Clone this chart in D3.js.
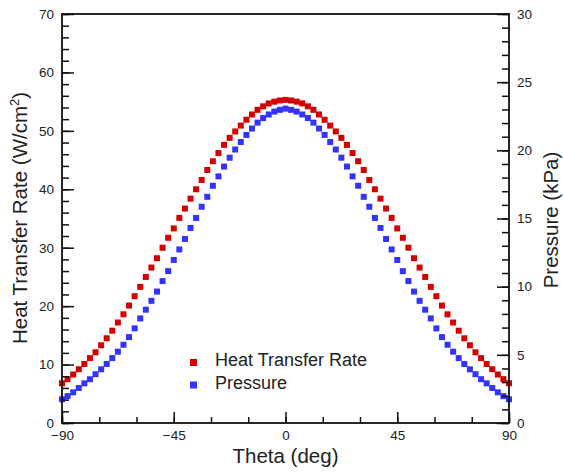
<!DOCTYPE html>
<html><head><meta charset="utf-8">
<script src="https://cdn.jsdelivr.net/npm/d3@7"></script>
<style>body{margin:0;background:#fff}svg{display:block}text{font-family:"Liberation Sans",Arial,sans-serif;fill:#222}</style>
</head><body><svg id="c" width="563" height="474"></svg>
<script>
// theta in degrees, 2.25 deg step
const theta = d3.range(81).map(i => -90 + i * 2.25);
// Heat transfer rate (W/cm^2)
const heatRate = [6.8,7.5,8.3,9.2,10.1,11.1,12.1,13.3,14.5,15.8,17.2,18.6,20.1,21.7,23.3,25.0,26.6,28.2,30.0,31.7,33.3,35.1,36.7,38.4,40.0,41.6,43.3,44.8,46.2,47.6,48.8,49.9,50.9,51.9,52.8,53.6,54.2,54.7,55.0,55.2,55.3,
55.2,55.0,54.7,54.2,53.6,52.8,51.9,50.9,49.9,48.8,47.6,46.2,44.8,43.3,41.6,40.0,38.4,36.7,35.1,33.3,31.7,30.0,28.2,26.6,25.0,23.3,21.7,20.1,18.6,17.2,15.8,14.5,13.3,12.1,11.1,10.1,9.2,8.3,7.5,6.8];
// Pressure (kPa)
const pressure = [1.74,1.97,2.25,2.57,2.91,3.21,3.58,3.94,4.33,4.76,5.23,5.74,6.30,6.94,7.67,8.31,8.96,9.64,10.41,11.14,11.96,12.73,13.50,14.31,15.04,15.86,16.59,17.40,18.09,18.81,19.46,20.06,20.61,21.13,21.60,22.03,22.37,22.63,22.84,22.97,23.06,
22.97,22.84,22.63,22.37,22.03,21.60,21.13,20.61,20.06,19.46,18.81,18.09,17.40,16.59,15.86,15.04,14.31,13.50,12.73,11.96,11.14,10.41,9.64,8.96,8.31,7.67,6.94,6.30,5.74,5.23,4.76,4.33,3.94,3.58,3.21,2.91,2.57,2.25,1.97,1.74];
const xTicks = [-90,-45,0,45,90];
const leftTicks = [0,10,20,30,40,50,60,70];
const rightTicks = [0,5,10,15,20,25,30];
const seriesNames = ["Heat Transfer Rate","Pressure"];
const colors = ["#d40000","#3333ff"];

const L=62,R=509,T=14,B=423;
const svg=d3.select("#c");
const x=d3.scaleLinear().domain([-90,90]).range([L,R]);
const yL=d3.scaleLinear().domain([0,70]).range([B,T]);
const yR=d3.scaleLinear().domain([0,30]).range([B,T]);

// data markers
const ms=6;
svg.append("g").selectAll("rect").data(theta.map((t,i)=>[t,heatRate[i]])).join("rect")
  .attr("x",d=>x(d[0])-ms/2).attr("y",d=>yL(d[1])-ms/2).attr("width",ms).attr("height",ms).attr("fill",colors[0]);
svg.append("g").selectAll("rect").data(theta.map((t,i)=>[t,pressure[i]])).join("rect")
  .attr("x",d=>x(d[0])-ms/2).attr("y",d=>yR(d[1])-ms/2).attr("width",ms).attr("height",ms).attr("fill",colors[1]);

// axes
function styleAxis(g){g.select(".domain").remove();g.selectAll("line").attr("stroke","#111").attr("stroke-width",1.5);g.selectAll("text").attr("font-size",13.5).style("fill","#222");}
svg.append("g").attr("transform",`translate(0,${B})`).call(d3.axisBottom(x).tickValues(d3.range(-90,91,15)).tickSize(-6).tickFormat("")).call(styleAxis);
svg.append("g").attr("transform",`translate(0,${B})`).call(d3.axisBottom(x).tickValues(xTicks).tickSize(-11).tickPadding(7).tickFormat(d3.format("d"))).call(styleAxis);
svg.append("g").attr("transform",`translate(${L},0)`).call(d3.axisLeft(yL).tickValues(d3.range(0,71,2)).tickSize(-7).tickFormat("")).call(styleAxis);
svg.append("g").attr("transform",`translate(${L},0)`).call(d3.axisLeft(yL).tickValues(leftTicks).tickSize(-12).tickFormat(d3.format("d"))).call(styleAxis)
  .selectAll("text").attr("x",-8);
svg.append("g").attr("transform",`translate(${R},0)`).call(d3.axisRight(yR).tickValues(d3.range(0,31,1)).tickSize(-7).tickFormat("")).call(styleAxis);
svg.append("g").attr("transform",`translate(${R},0)`).call(d3.axisRight(yR).tickValues(rightTicks).tickSize(-12).tickFormat(d3.format("d"))).call(styleAxis)
  .selectAll("text").attr("x",8);

// frame
svg.append("rect").attr("x",L).attr("y",T).attr("width",R-L).attr("height",B-T).attr("fill","none").attr("stroke","#111").attr("stroke-width",1.8);

// titles
svg.append("text").attr("x",(L+R)/2).attr("y",463).attr("text-anchor","middle").attr("font-size",20.5).text("Theta (deg)");
const lt=svg.append("text").attr("transform",`translate(27,218) rotate(-90)`).attr("text-anchor","middle").attr("font-size",20.5);
lt.append("tspan").text("Heat Transfer Rate (W/cm");
lt.append("tspan").attr("font-size",13).attr("dy",-8).text("2");
lt.append("tspan").attr("dy",8).text(")");
svg.append("text").attr("transform",`translate(558,220) rotate(-90)`).attr("text-anchor","middle").attr("font-size",20.5).text("Pressure (kPa)");

// legend
const lg=svg.append("g").attr("transform","translate(190,359)");
seriesNames.forEach((n,i)=>{
  lg.append("rect").attr("x",0).attr("y",i*22.5).attr("width",7).attr("height",7).attr("fill",colors[i]);
  lg.append("text").attr("x",25).attr("y",i*22.5+7).attr("font-size",18).text(n);
});
</script></body></html>
